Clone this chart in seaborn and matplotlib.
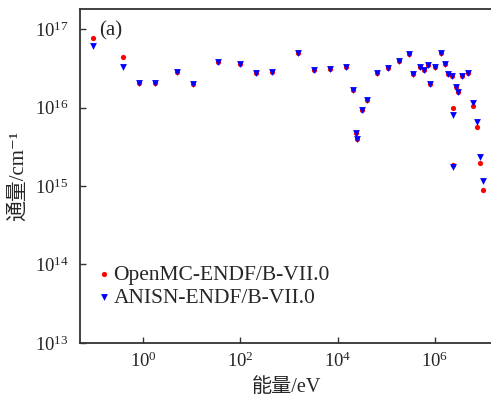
import matplotlib
matplotlib.use("Agg")
import pandas as pd
import seaborn as sns
from matplotlib import pyplot as plt

# energy group points (eV) and flux values
energy = [
    0.095, 0.394, 0.84, 1.79, 4.93, 10.5, 35.3, 98.6, 210, 442,
    1557, 3270, 6980, 14890, 21000, 23900, 25400, 31300, 39600, 65500,
    1.10e5, 1.80e5, 2.89e5, 3.60e5, 4.94e5, 5.97e5, 7.31e5, 7.93e5, 9.9e5, 1.33e6,
    1.64e6, 1.88e6, 2.21e6, 2.32e6, 2.32e6, 2.68e6, 2.94e6, 3.61e6, 4.86e6, 5.98e6,
    7.23e6, 8.45e6, 9.75e6,
]
openmc = [
    7.8e16, 4.45e16, 2.04e16, 2.07e16, 2.81e16, 2.0e16, 3.84e16, 3.55e16, 2.73e16, 2.84e16,
    4.91e16, 3.01e16, 3.12e16, 3.26e16, 1.67e16, 4.71e15, 3.99e15, 9.3e15, 1.25e16, 2.78e16,
    3.22e16, 3.88e16, 4.76e16, 2.65e16, 3.31e16, 3.01e16, 3.52e16, 2.0e16, 3.29e16, 4.99e16,
    3.62e16, 2.64e16, 2.55e16, 9.8e15, 1.85e15, 1.83e16, 1.58e16, 2.55e16, 2.72e16, 1.06e16,
    5.72e15, 1.95e15, 8.95e14,
]
anisn = [
    6.1e16, 3.26e16, 2.04e16, 2.07e16, 2.81e16, 2.0e16, 3.84e16, 3.55e16, 2.73e16, 2.84e16,
    4.91e16, 3.01e16, 3.12e16, 3.26e16, 1.67e16, 4.71e15, 3.99e15, 9.3e15, 1.25e16, 2.78e16,
    3.22e16, 3.88e16, 4.76e16, 2.65e16, 3.31e16, 3.01e16, 3.52e16, 2.0e16, 3.29e16, 4.99e16,
    3.62e16, 2.64e16, 2.55e16, 8.05e15, 1.76e15, 1.83e16, 1.58e16, 2.55e16, 2.72e16, 1.13e16,
    6.5e15, 2.35e15, 1.15e15,
]
labels = ["OpenMC-ENDF/B-VII.0", "ANISN-ENDF/B-VII.0"]

sns.set_style("ticks")
plt.rcParams["font.family"] = ["Liberation Serif", "Noto Sans CJK SC", "DejaVu Serif"]
plt.rcParams["mathtext.fontset"] = "custom"
plt.rcParams["mathtext.rm"] = "Liberation Serif"
plt.rcParams["mathtext.it"] = "Liberation Serif:italic"

df = pd.DataFrame({"energy": energy, "openmc": openmc, "anisn": anisn})

fig = plt.figure(figsize=(4.91, 3.99), dpi=100)
ax = fig.add_axes([0.163, 0.1404, 0.842, 0.837])

sns.scatterplot(data=df, x="energy", y="openmc", ax=ax, color="#ff0000",
                marker="o", s=14, linewidth=0, label=labels[0])
sns.scatterplot(data=df, x="energy", y="anisn", ax=ax, color="#0000ff",
                marker="v", s=24, linewidth=0, label=labels[1])

ax.set_xscale("log")
ax.set_yscale("log")
ax.set_xlim(0.0507, 1.6e7)
ax.set_ylim(1e13, 1.8e17)
ax.set_xticks([1, 1e2, 1e4, 1e6])
ax.set_yticks([1e13, 1e14, 1e15, 1e16, 1e17])
ax.minorticks_off()

for side in ["left", "bottom", "top"]:
    ax.spines[side].set_linewidth(1.3)
    ax.spines[side].set_color("#333333")
ax.spines["right"].set_visible(False)
ax.tick_params(direction="in", length=4, width=1, labelsize=13.5, color="#333333")
ax.tick_params(axis="y", pad=8)
ax.tick_params(axis="x", pad=6)

ax.set_xlabel("能量/eV", fontsize=14.5, labelpad=5)
ax.set_ylabel("通量/cm⁻¹", fontsize=15, labelpad=5)
ax.text(0.045, 0.935, "(a)", transform=ax.transAxes, fontsize=15, va="center")

ax.legend(loc="lower left", bbox_to_anchor=(0.0, 0.06), frameon=False,
          fontsize=15.5, handletextpad=0.05, handlelength=0.8, labelspacing=0.15,
          borderaxespad=0.3)

fig.savefig("out.png", dpi=100)
